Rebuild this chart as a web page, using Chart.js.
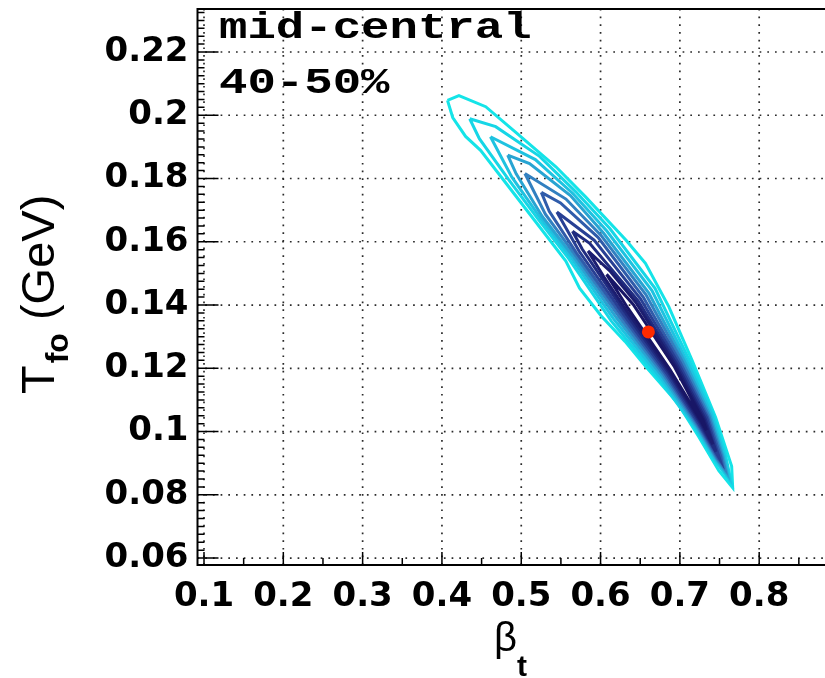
<!DOCTYPE html>
<html>
<head>
<meta charset="utf-8">
<title>Blast-wave fit contours, 40-50%</title>
<script src="https://cdn.jsdelivr.net/npm/chart.js@4.4.0/dist/chart.umd.min.js"></script>
<style>
  html, body { margin: 0; padding: 0; background: #fff; overflow: hidden; }
  canvas { display: block; }
</style>
</head>
<body>
<canvas id="fitChart" width="845" height="678"></canvas>
<script>
// chi2 contour levels in the (beta_t, T_fo) plane, outermost first: [beta_t, T_fo (GeV)]
const level0 = [[0.4070,0.2047],[0.4214,0.2062],[0.4552,0.2027],[0.4935,0.1945],[0.5437,0.1837],[0.5811,0.1742],[0.6322,0.1605],[0.6566,0.1532],[0.6860,0.1395],[0.7154,0.1225],[0.7450,0.1045],[0.7653,0.0890],[0.7666,0.0822],
                [0.7491,0.0876],[0.7234,0.0985],[0.6966,0.1092],[0.6575,0.1204],[0.6308,0.1285],[0.6006,0.1366],[0.5735,0.1453],[0.5562,0.1539],[0.5179,0.1664],[0.4796,0.1789],[0.4487,0.1889],[0.4298,0.1933],[0.4136,0.1993]];
const level1 = [[0.4350,0.1989],[0.4678,0.1964],[0.5231,0.1870],[0.5688,0.1758],[0.6117,0.1642],[0.6687,0.1453],[0.7100,0.1235],[0.7414,0.1058],[0.7571,0.0930],[0.7649,0.0838],
                [0.7446,0.0907],[0.7182,0.1015],[0.6735,0.1167],[0.6134,0.1350],[0.5601,0.1546],[0.5215,0.1671],[0.4839,0.1797],[0.4472,0.1926]];
const level2 = [[0.4612,0.1932],[0.5178,0.1860],[0.5654,0.1752],[0.6079,0.1634],[0.6648,0.1446],[0.7075,0.1230],[0.7398,0.1055],[0.7556,0.0927],[0.7622,0.0853],
                [0.7457,0.0909],[0.7194,0.1017],[0.6756,0.1171],[0.6164,0.1356],[0.5626,0.1551],[0.5241,0.1676],[0.4880,0.1805]];
const level3 = [[0.4829,0.1874],[0.5105,0.1847],[0.5620,0.1746],[0.6039,0.1627],[0.6609,0.1438],[0.7051,0.1226],[0.7381,0.1051],[0.7542,0.0924],[0.7594,0.0867],
                [0.7468,0.0911],[0.7207,0.1019],[0.6777,0.1175],[0.6194,0.1362],[0.5651,0.1555],[0.5265,0.1680],[0.4936,0.1815]];
const level4 = [[0.5046,0.1816],[0.5564,0.1735],[0.6004,0.1621],[0.6573,0.1432],[0.7029,0.1222],[0.7366,0.1049],[0.7529,0.0922],[0.7567,0.0882],
                [0.7477,0.0912],[0.7218,0.1021],[0.6797,0.1179],[0.6222,0.1367],[0.5674,0.1560],[0.5304,0.1687]];
const level5 = [[0.5253,0.1756],[0.5495,0.1723],[0.5968,0.1614],[0.6538,0.1425],[0.7006,0.1218],[0.7350,0.1046],[0.7516,0.0920],[0.7533,0.0899],
                [0.7486,0.0914],[0.7229,0.1023],[0.6816,0.1182],[0.6249,0.1372],[0.5698,0.1564],[0.5353,0.1696]];
const level6 = [[0.5449,0.1694],[0.5919,0.1605],[0.6506,0.1419],[0.6986,0.1214],[0.7337,0.1043],[0.7498,0.0916],
                [0.7239,0.1025],[0.6833,0.1185],[0.6274,0.1376],[0.5730,0.1570]];
const level7 = [[0.5646,0.1633],[0.5863,0.1595],[0.6474,0.1413],[0.6967,0.1210],[0.7319,0.1040],[0.7456,0.0936],
                [0.7252,0.1028],[0.6850,0.1189],[0.6298,0.1381],[0.5768,0.1577]];
const level8 = [[0.5842,0.1571],[0.6124,0.1506],[0.6446,0.1408],[0.6948,0.1207],[0.7305,0.1037],[0.7416,0.0960],
                [0.7263,0.1030],[0.6865,0.1191],[0.6320,0.1385],[0.6039,0.1490]];
const level9 = [[0.6076,0.1497],[0.6412,0.1402],[0.6933,0.1204],[0.7291,0.1035],[0.7335,0.1004],
                [0.7274,0.1032],[0.6879,0.1194],[0.6345,0.1390]];

const levelColors = ['rgb(20,228,232)', 'rgb(22,214,230)', 'rgb(30,194,224)', 'rgb(40,164,210)', 'rgb(50,128,192)',
                     'rgb(48,92,170)', 'rgb(40,64,148)', 'rgb(32,44,128)', 'rgb(28,30,112)', 'rgb(24,22,102)'];

// best fit point
const bestBeta = [0.6603];
const bestTemp = [0.1315];

// axes
const betaTicks = [0.1, 0.2, 0.3, 0.4, 0.5, 0.6, 0.7, 0.8];
const tempTicks = [0.06, 0.08, 0.1, 0.12, 0.14, 0.16, 0.18, 0.2, 0.22];
const panelLines = ['mid-central', '40-50%'];

const levels = [level0, level1, level2, level3, level4, level5, level6, level7, level8, level9];

const datasets = levels.map((pts, i) => ({
  data: pts.concat([pts[0]]).map(p => ({ x: p[0], y: p[1] })),
  showLine: true,
  fill: false,
  tension: 0,
  borderColor: levelColors[i],
  borderWidth: 3,
  borderJoinStyle: 'miter',
  pointRadius: 0,
  order: levels.length - i
}));

datasets.push({
  data: bestBeta.map((b, i) => ({ x: b, y: bestTemp[i] })),
  showLine: false,
  pointRadius: 6.5,
  pointBackgroundColor: '#ff2a00',
  pointBorderWidth: 0,
  order: 0
});

// dotted grid under the contours
const gridDots = {
  id: 'gridDots',
  beforeDatasetsDraw(chart) {
    const { ctx, chartArea: a, scales: { x, y } } = chart;
    ctx.save();
    ctx.strokeStyle = '#2a2a2a';
    ctx.lineWidth = 1.7;
    ctx.setLineDash([1.7, 6]);
    betaTicks.forEach(v => {
      const px = x.getPixelForValue(v);
      ctx.beginPath();
      ctx.moveTo(px, a.bottom);
      ctx.lineTo(px, a.top);
      ctx.stroke();
    });
    tempTicks.forEach(v => {
      const py = y.getPixelForValue(v);
      ctx.beginPath();
      ctx.moveTo(a.left, py);
      ctx.lineTo(a.right, py);
      ctx.stroke();
    });
    ctx.restore();
  }
};

// frame and inward tick marks
const frame = {
  id: 'frame',
  afterDatasetsDraw(chart) {
    const { ctx, chartArea: a, scales: { x, y } } = chart;
    ctx.save();
    ctx.strokeStyle = '#000';
    ctx.lineWidth = 2;
    ctx.beginPath();
    ctx.moveTo(a.right + 10, a.top);
    ctx.lineTo(a.left, a.top);
    ctx.lineTo(a.left, a.bottom);
    ctx.lineTo(a.right + 10, a.bottom);
    ctx.stroke();

    ctx.lineWidth = 1.5;
    ctx.beginPath();
    betaTicks.forEach(v => {
      const px = x.getPixelForValue(v);
      ctx.moveTo(px, a.bottom);
      ctx.lineTo(px, a.bottom - 13);
      const pm = x.getPixelForValue(v + 0.05);
      ctx.moveTo(pm, a.bottom);
      ctx.lineTo(pm, a.bottom - 7);
    });
    for (let v = 0.06; v < y.max; v += 0.0025) {
      const py = y.getPixelForValue(v);
      const major = tempTicks.some(t => Math.abs(t - v) < 1e-6);
      ctx.moveTo(a.left, py);
      ctx.lineTo(a.left + (major ? 21 : 7), py);
    }
    ctx.stroke();
    ctx.restore();
  }
};

// panel text and axis titles
const annotate = {
  id: 'annotate',
  afterDraw(chart) {
    const ctx = chart.ctx;
    ctx.save();
    ctx.fillStyle = '#000';
    ctx.textAlign = 'left';
    ctx.textBaseline = 'alphabetic';

    ctx.font = 'bold 37px "Liberation Mono"';
    panelLines.forEach((txt, i) => {
      ctx.save();
      ctx.translate(219, 38 + i * 55);
      ctx.scale(1.28, 1);
      ctx.fillText(txt, 0, 0);
      ctx.restore();
    });

    ctx.font = '40px "Liberation Sans"';
    ctx.fillText('\u03b2', 494, 651);
    const bw = ctx.measureText('\u03b2').width;
    ctx.font = 'bold 30px "Liberation Sans"';
    ctx.fillText('t', 494 + bw, 676);

    ctx.translate(54, 394);
    ctx.rotate(-Math.PI / 2);
    ctx.font = '47px "Liberation Sans"';
    ctx.fillText('T', 0, 0);
    let w = ctx.measureText('T').width;
    ctx.font = 'bold 32px "Liberation Sans"';
    ctx.fillText('fo', w + 2, 14);
    w += 2 + ctx.measureText('fo').width;
    ctx.font = '47px "Liberation Sans"';
    ctx.fillText(' (GeV)', w, 0);
    ctx.restore();
  }
};

const tickFont = { family: '"DejaVu Sans"', size: 34, weight: 'bold' };
const fmt = v => String(+v.toFixed(2));

new Chart(document.getElementById('fitChart').getContext('2d'), {
  type: 'scatter',
  data: { datasets: datasets },
  options: {
    responsive: false,
    animation: false,
    devicePixelRatio: 1,
    layout: { padding: { top: 9, right: 5, left: 0, bottom: 0 } },
    plugins: { legend: { display: false }, tooltip: { enabled: false } },
    scales: {
      x: {
        type: 'linear',
        min: 0.0918,
        max: 0.9,
        grid: { display: false, drawTicks: false },
        border: { display: false },
        afterBuildTicks: s => { s.ticks = betaTicks.map(v => ({ value: v })); },
        afterFit: s => { s.height = 113; s.paddingLeft = 0; s.paddingRight = 0; },
        ticks: { font: tickFont, color: '#000', padding: 12, maxRotation: 0, minRotation: 0, autoSkip: false, callback: fmt }
      },
      y: {
        type: 'linear',
        min: 0.0578,
        max: 0.2336,
        grid: { display: false, drawTicks: false },
        border: { display: false },
        afterBuildTicks: s => { s.ticks = tempTicks.map(v => ({ value: v })); },
        afterFit: s => { s.width = 197.5; s.paddingTop = 0; s.paddingBottom = 0; },
        ticks: { font: tickFont, color: '#000', padding: 9, autoSkip: false, callback: fmt }
      }
    }
  },
  plugins: [gridDots, frame, annotate]
});
</script>
</body>
</html>
